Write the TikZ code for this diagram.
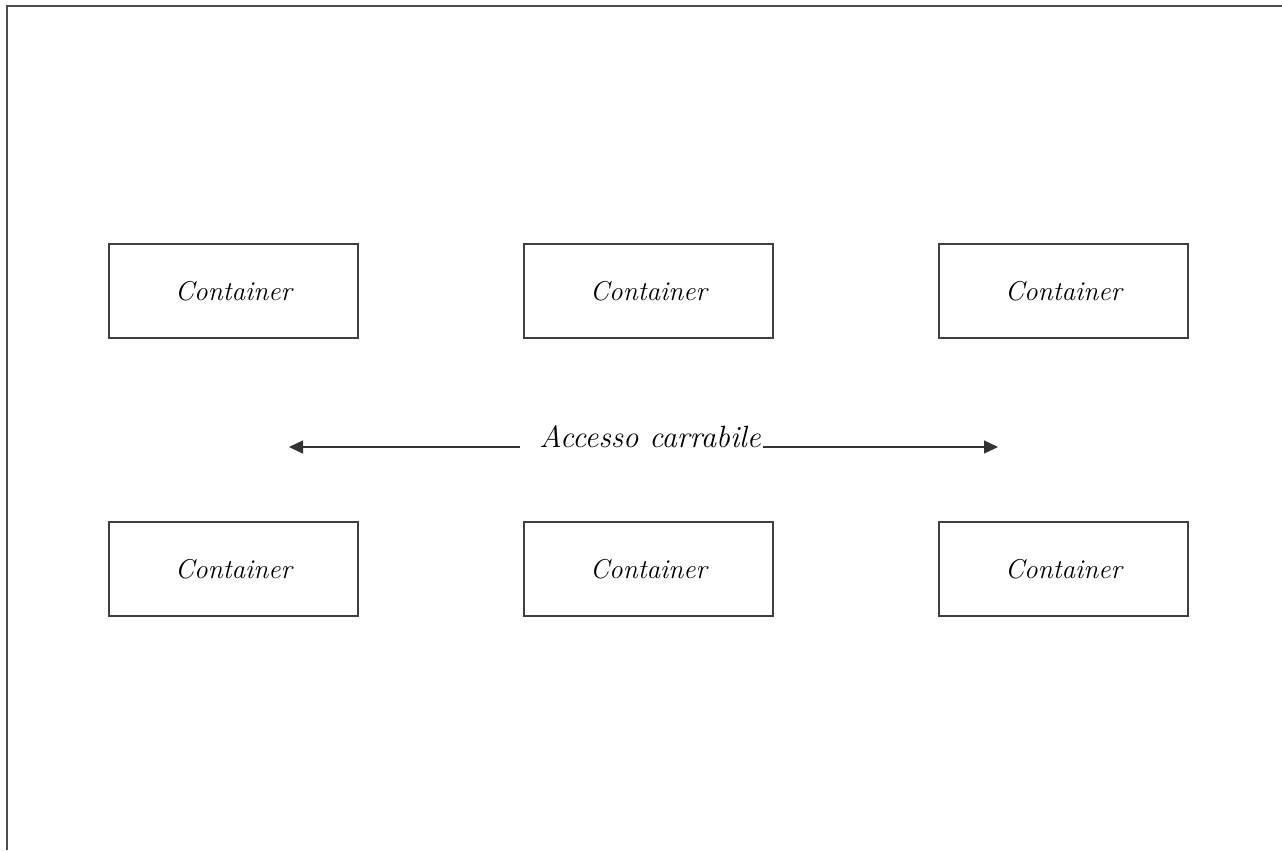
\documentclass[tikz,border=0pt]{standalone}
\usepackage{tikz}
\usetikzlibrary{arrows.meta}
\usetikzlibrary{positioning}

\begin{document}
\begin{tikzpicture}[x=0.02cm, y=-0.02cm,
  container/.style={draw=black!75, line width=0.85pt, minimum width=4.98cm, minimum height=1.88cm, inner sep=0pt, font=\fontsize{15.5}{18}\selectfont\itshape},
  road/.style={draw=black!80, line width=0.8pt}]
\useasboundingbox (0,0) rectangle (1282,850);
\draw[black!70, line width=1.2pt](7,850)--(7,6)--(1282,6);

\node[container] (c1) at (233.5,291) {Container};
\node[container] (c2) at (648.5,291) {Container};
\node[container] (c3) at (1063.5,291) {Container};
\node[container] (c4) at (233.5,569) {Container};
\node[container] (c5) at (648.5,569) {Container};
\node[container] (c6) at (1063.5,569) {Container};

\node[anchor=base, inner sep=1pt, font=\fontsize{17.5}{20}\selectfont\itshape] (access) at (650,447) {Accesso carrabile};
\coordinate (left) at (289,447);
\coordinate (right) at (998,447);
\draw[road,-{Triangle[length=2.8mm,width=2.6mm]}] ([xshift=-10pt]access.base west)--(left);
\draw[road,-{Triangle[length=2.8mm,width=2.6mm]}] (access.base east)--(right);
\end{tikzpicture}
\end{document}
